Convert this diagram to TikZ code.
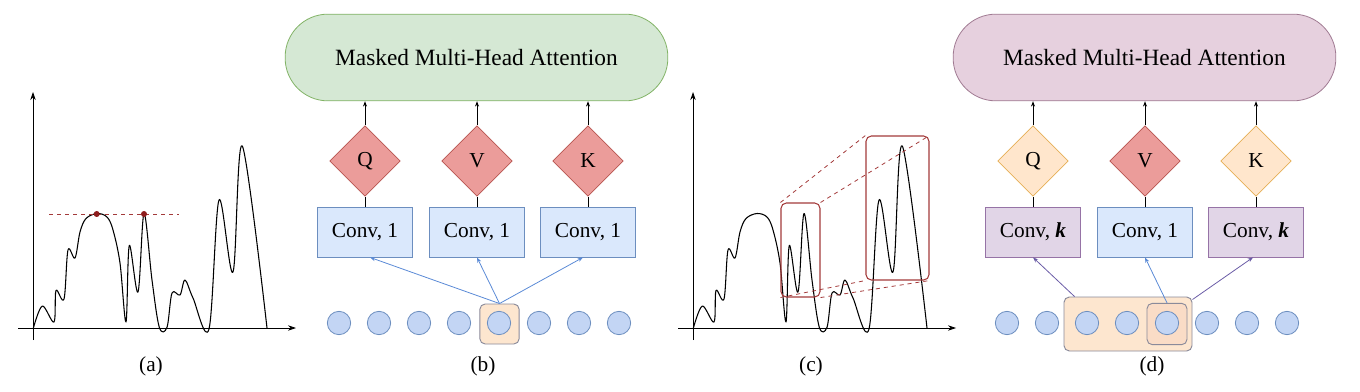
\documentclass[tikz,border=0pt]{standalone}
\usepackage{fontspec}
\setmainfont{Liberation Serif}
\usetikzlibrary{arrows.meta,shapes.geometric,calc}

\definecolor{attGreen}{HTML}{D5E8D4}
\definecolor{attGreenD}{HTML}{82B366}
\definecolor{attPink}{HTML}{E6D0DE}
\definecolor{attPinkD}{HTML}{A07A92}
\definecolor{diaRed}{HTML}{EB9C9A}
\definecolor{diaRedD}{HTML}{B85450}
\definecolor{diaOrange}{HTML}{FFE6CC}
\definecolor{diaOrangeD}{HTML}{E6AE55}
\definecolor{convBlue}{HTML}{DAE8FC}
\definecolor{convBlueD}{HTML}{6C8EBF}
\definecolor{convPurple}{HTML}{E1D5E7}
\definecolor{convPurpleD}{HTML}{9673A6}
\definecolor{tokBlue}{HTML}{C3D5F4}
\definecolor{hlOrange}{HTML}{FDE6CF}
\definecolor{hlOrangeI}{HTML}{FADCC6}
\definecolor{hlGray}{HTML}{8A8A9A}
\definecolor{arrBlue}{HTML}{5A8AD6}
\definecolor{arrPurple}{HTML}{6A5CA6}
\definecolor{zoomRed}{HTML}{A33A3A}
\definecolor{peakRed}{HTML}{8E1C1C}

\tikzstyle{axis}=[-{Stealth[length=6pt,width=4pt]}, line width=0.6pt]
\tikzstyle{signal}=[line width=0.8pt, line join=round]
\tikzstyle{peakline}=[dashed, zoomRed, line width=0.6pt]
\tikzstyle{peakdot}=[circle, fill=peakRed, minimum size=4.5pt, inner sep=0pt]
\tikzstyle{zoombox}=[draw=zoomRed, rounded corners=4pt, line width=0.8pt, inner sep=0pt]
\tikzstyle{zoomline}=[dashed, zoomRed, line width=0.6pt]
\tikzstyle{attbox}=[rounded corners=32pt, minimum width=287pt, minimum height=65pt, line width=0.6pt, font=\fontsize{17.5}{20}\selectfont]
\tikzstyle{qkv}=[diamond, minimum width=53pt, minimum height=53pt, inner sep=0pt, line width=0.6pt]
\tikzstyle{conv}=[minimum width=71pt, minimum height=37.5pt, inner sep=0pt, line width=0.6pt]
\tikzstyle{token}=[circle, draw=convBlueD, fill=tokBlue, minimum size=17.5pt, inner sep=0pt, line width=0.6pt]
\tikzstyle{hlbox}=[draw=hlGray, fill=hlOrange, rounded corners=4pt, inner sep=0pt, line width=0.7pt]
\tikzstyle{upE}=[-{Stealth[length=4pt,width=3pt]}, line width=0.6pt]
\tikzstyle{featE}=[-{Stealth[length=4pt,width=3pt]}, line width=0.6pt]

\begin{document}
\begin{tikzpicture}[x=0.75pt, y=-0.75pt, font=\fontsize{16}{19}\selectfont]
    \useasboundingbox (0,0) rectangle (1360,392);

    %%%%%  Curvas (a) y (c)  %%%%%
    \foreach \sx/\nm in {0/a,660/c} {
      \begin{scope}[shift={(\sx,0)}]
        \coordinate (yb\nm) at (33,340);
        \coordinate (yt\nm) at (33,92);
        \coordinate (xl\nm) at (18,328);
        \coordinate (xr\nm) at (296,328);
        \draw [axis] (yb\nm) -- (yt\nm);
        \draw [axis] (xl\nm) -- (xr\nm);
        \draw [signal] plot[smooth, tension=0.55] coordinates {
          (33.3,328.3) (42.3,306) (54,322) (56,290.5) (64,299)
          (68,250) (75,258) (80,232) (86,218.5) (97,213.5) (107,217)
          (113,230) (120,263) (126,322) (129.3,245.5)
          (138,292) (144,213.5) (152,280) (159.3,327.3) (167,327.3)
          (172,293) (180,295) (185,280) (193,298)
          (209,329) (219,200) (233,272) (242.3,146) (267,328)};
      \end{scope}
    }

    %%%%%  Picos (a)  %%%%%
    \coordinate (pl) at (49,214);
    \coordinate (pr) at (179,214);
    \draw [peakline] (pl) -- (pr);
    \node (p1) [peakdot] at (96.7,214) {};
    \node (p2) [peakdot] at (144,214) {};
    \node (la) at (151,366) {(a)};

    %%%%%  Zoom (c)  %%%%%
    \node (zs) [zoombox, minimum width=29.25pt, minimum height=70.5pt] at (800.5,250) {};
    \node (zl) [zoombox, minimum width=47.25pt, minimum height=108pt] at (897.5,208) {};
    \draw [zoomline] (zs.north west) -- (zl.north west);
    \draw [zoomline] (zs.north east) -- (zl.north east);
    \draw [zoomline] (zs.south west) -- (zl.south west);
    \draw [zoomline] (zs.south east) -- (zl.south east);
    \node (lc) at (811,366) {(c)};

    %%%%%  Bloque (b)  %%%%%
    \node (attb) [attbox, draw=attGreenD, fill=attGreen] at (476.5,57.5) {Masked Multi-Head Attention};
    \node (qb) [qkv, draw=diaRedD, fill=diaRed] at (365,161) {Q};
    \node (vb) [qkv, draw=diaRedD, fill=diaRed] at (477,161) {V};
    \node (kb) [qkv, draw=diaRedD, fill=diaRed] at (588,161) {K};
    \node (cqb) [conv, draw=convBlueD, fill=convBlue] at (365,232) {Conv, 1};
    \node (cvb) [conv, draw=convBlueD, fill=convBlue] at (477,232) {Conv, 1};
    \node (ckb) [conv, draw=convBlueD, fill=convBlue] at (588,232) {Conv, 1};
    \foreach \d in {qb,vb,kb} {
      \draw [upE] (\d.north) -- (\d.north |- attb.south);
    }
    \draw (cqb.north) -- (qb.south);
    \draw (cvb.north) -- (vb.south);
    \draw (ckb.north) -- (kb.south);
    \node (hlb) [hlbox, minimum width=29.5pt, minimum height=30pt] at (499.5,324) {};
    \foreach \i in {1,...,8} {
      \node (tb\i) [token] at ({299+40*\i},323) {};
    }
    \draw [featE, arrBlue] (hlb.north) -- ($(cqb.south)+(5,0)$);
    \draw [featE, arrBlue] (hlb.north) -- (cvb.south);
    \draw [featE, arrBlue] (hlb.north) -- ($(ckb.south)+(-5,0)$);
    \node (lb) at (483,366) {(b)};

    %%%%%  Bloque (d)  %%%%%
    \node (attd) [attbox, draw=attPinkD, fill=attPink] at (1144.5,57.5) {Masked Multi-Head Attention};
    \node (qd) [qkv, draw=diaOrangeD, fill=diaOrange] at (1033,161) {Q};
    \node (vd) [qkv, draw=diaRedD, fill=diaRed] at (1145,161) {V};
    \node (kd) [qkv, draw=diaOrangeD, fill=diaOrange] at (1256,161) {K};
    \node (cqd) [conv, draw=convPurpleD, fill=convPurple] at (1033,232) {Conv, \textbf{\textit{k}}};
    \node (cvd) [conv, draw=convBlueD, fill=convBlue] at (1145,232) {Conv, 1};
    \node (ckd) [conv, draw=convPurpleD, fill=convPurple] at (1256,232) {Conv, \textbf{\textit{k}}};
    \foreach \d in {qd,vd,kd} {
      \draw [upE] (\d.north) -- (\d.north |- attd.south);
    }
    \draw (cqd.north) -- (qd.south);
    \draw (cvd.north) -- (vd.south);
    \draw (ckd.north) -- (kd.south);
    \node (hld) [hlbox, minimum width=96pt, minimum height=40.5pt] at (1128,324) {};
    \node (hldi) [hlbox, fill=hlOrangeI, minimum width=30pt, minimum height=31pt] at (1167,324) {};
    \foreach \i in {1,...,8} {
      \node (td\i) [token] at ({967+40*\i},323) {};
    }
    \draw [featE, arrPurple] ($(hld.north west)+(11,0)$) -- (cqd.south);
    \draw [featE, arrBlue] (hldi.north) -- (cvd.south);
    \draw [featE, arrPurple] ($(hld.north east)+(0,3)$) -- ($(ckd.south)+(-3,0)$);
    \node (ld) at (1152,366) {(d)};
  \end{tikzpicture}
\end{document}
